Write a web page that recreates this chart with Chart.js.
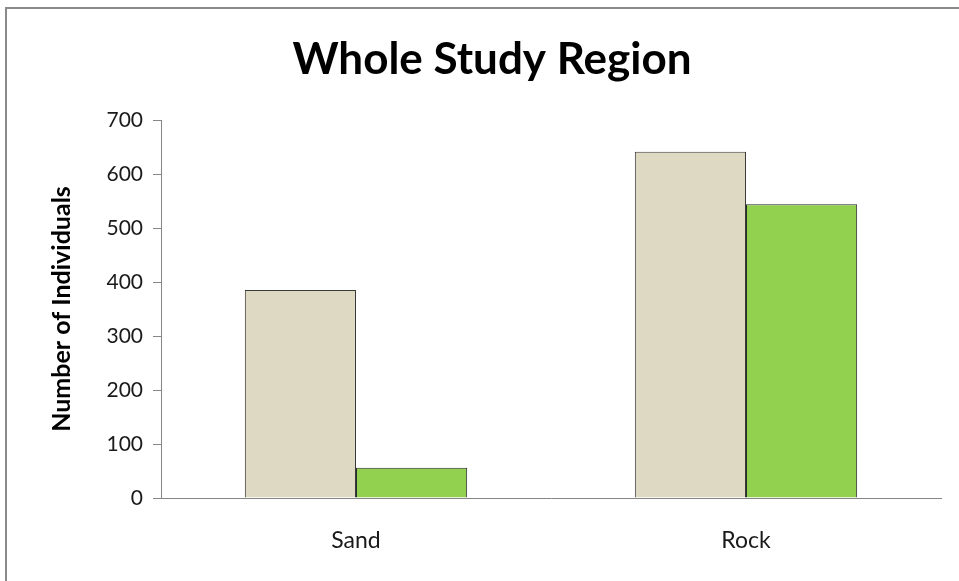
<!DOCTYPE html>
<html>
<head>
<meta charset="utf-8">
<script src="https://cdn.jsdelivr.net/npm/chart.js@4/dist/chart.umd.min.js"></script>
<style>
  html, body { margin: 0; padding: 0; background: #fff; overflow: hidden; }
  #frame {
    position: absolute; left: 5px; top: 7px;
    width: 980px; height: 600px;
    border: 2px solid #8a8a8a; box-sizing: border-box; background: #fff;
  }
  #frame canvas { display: block; }
</style>
</head>
<body>
<div id="frame"><canvas id="studyChart" width="976" height="596"></canvas></div>
<script>
// Data
const categories = ['Sand', 'Rock'];
const seriesA = [385, 641];   // beige bars
const seriesB = [56, 544];    // green bars
const yTicks = [0, 100, 200, 300, 400, 500, 600, 700];

const FONT = "Lato, 'Liberation Sans', sans-serif";
const axisColor = '#868686';
const textColor = '#1a1a1a';

document.addEventListener('DOMContentLoaded', function () {
  const ctx = document.getElementById('studyChart');
  new Chart(ctx, {
    type: 'bar',
    data: {
      labels: categories,
      datasets: [
        {
          label: 'A',
          data: seriesA,
          backgroundColor: '#DDD9C3',
          borderColor: '#3a3a3a',
          borderWidth: 1
        },
        {
          label: 'B',
          data: seriesB,
          backgroundColor: '#92D050',
          borderColor: '#2a2a2a',
          borderWidth: 1
        }
      ]
    },
    options: {
      responsive: false,
      animation: false,
      layout: { padding: { left: 36, right: 42, top: 0, bottom: 27 } },
      datasets: {
        bar: { categoryPercentage: 0.57, barPercentage: 1.0 }
      },
      plugins: {
        legend: { display: false },
        tooltip: { enabled: false },
        title: {
          display: true,
          text: 'Whole Study Region',
          color: '#000',
          font: { family: FONT, size: 44, weight: 'bold' },
          padding: { top: 24, bottom: 34.2 }
        }
      },
      scales: {
        x: {
          grid: { display: false, drawTicks: false },
          border: { display: true, color: axisColor, width: 1 },
          ticks: {
            color: textColor,
            padding: 29,
            font: { family: FONT, size: 23 }
          },
          afterFit: function (scale) { scale.height = 80; }
        },
        y: {
          min: 0,
          max: 700,
          afterBuildTicks: function (scale) {
            scale.ticks = yTicks.map(v => ({ value: v }));
          },
          grid: {
            drawOnChartArea: false,
            drawTicks: true,
            tickLength: 8,
            color: axisColor
          },
          border: { display: true, color: axisColor, width: 1 },
          ticks: {
            color: textColor,
            padding: 10,
            font: { family: FONT, size: 21 }
          },
          title: {
            display: true,
            text: 'Number of Individuals',
            color: '#000',
            font: { family: FONT, size: 25, weight: 'bold' },
            padding: { top: 4, bottom: 4 }
          },
          afterFit: function (scale) { scale.width = 118; }
        }
      }
    }
  });
});
</script>
</body>
</html>
